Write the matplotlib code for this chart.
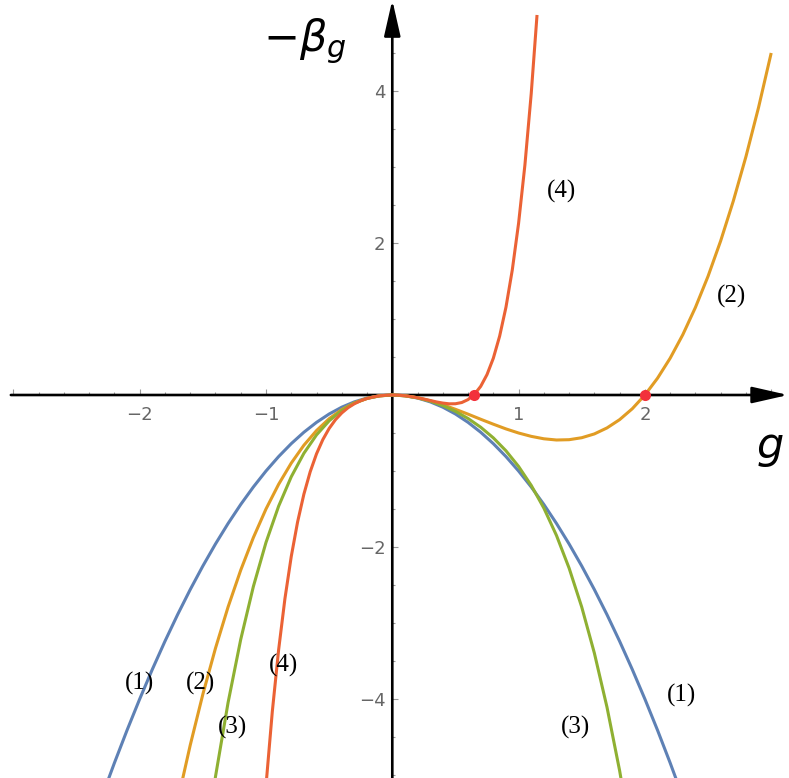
import numpy as np
import matplotlib
matplotlib.use("Agg")
import matplotlib.pyplot as plt
from matplotlib.ticker import FixedLocator, MultipleLocator

# sample grids in g
g1 = np.round(np.arange(-2.3, 2.31, 0.1), 2)
g2 = np.round(np.arange(-1.7, 3.001, 0.1), 2)
g3 = np.round(np.arange(-1.5, 1.91, 0.1), 2)
g4 = np.append(np.round(np.arange(-1.0, 1.101, 0.05), 2), 1.146)

# -beta_g values
y1 = [-5.29, -4.84, -4.41, -4, -3.61, -3.24, -2.89, -2.56, -2.25, -1.96, -1.69, -1.44,
      -1.21, -1, -0.81, -0.64, -0.49, -0.36, -0.25, -0.16, -0.09, -0.04, -0.01, 0,
      -0.01, -0.04, -0.09, -0.16, -0.25, -0.36, -0.49, -0.64, -0.81, -1, -1.21, -1.44,
      -1.69, -1.96, -2.25, -2.56, -2.89, -3.24, -3.61, -4, -4.41, -4.84, -5.29]
y2 = [-5.346, -4.608, -3.938, -3.332, -2.788, -2.304, -1.876, -1.5, -1.175, -0.896,
      -0.661, -0.468, -0.312, -0.192, -0.103, -0.044, -0.011, 0, -0.01, -0.036, -0.076,
      -0.128, -0.188, -0.252, -0.319, -0.384, -0.446, -0.5, -0.544, -0.576, -0.592,
      -0.588, -0.562, -0.512, -0.433, -0.324, -0.181, 0, 0.221, 0.484, 0.793, 1.152,
      1.562, 2.028, 2.552, 3.136, 3.784, 4.5]
y3 = [-6.165, -5.022, -4.045, -3.216, -2.52, -1.94, -1.463, -1.076, -0.767, -0.525,
      -0.34, -0.203, -0.107, -0.045, -0.011, 0, -0.01, -0.037, -0.08, -0.139, -0.215,
      -0.309, -0.424, -0.564, -0.734, -0.94, -1.189, -1.488, -1.848, -2.278, -2.79,
      -3.396, -4.108, -4.943, -5.915]
y4 = [-5.14, -4.166, -3.353, -2.679, -2.125, -1.672, -1.305, -1.01, -0.774, -0.587,
      -0.44, -0.325, -0.236, -0.167, -0.115, -0.075, -0.046, -0.025, -0.011, -0.003, 0,
      -0.002, -0.01, -0.021, -0.036, -0.053, -0.072, -0.091, -0.106, -0.116, -0.115,
      -0.099, -0.06, 0.008, 0.114, 0.269, 0.484, 0.775, 1.155, 1.644, 2.26, 3.026,
      3.965, 5.0]

# fixed points (zeros of -beta)
fp_g = [0.6455, 2.0]
fp_y = [0, 0]

colors = ["#5E81B5", "#E19C24", "#8FB032", "#EB6235"]

# curve labels: text, g, y
labels = [("(1)", -2.0, -3.8), ("(2)", -1.52, -3.8), ("(3)", -1.266, -4.37),
          ("(4)", -0.865, -3.56), ("(3)", 1.447, -4.37), ("(1)", 2.287, -3.95),
          ("(4)", 1.341, 2.68), ("(2)", 2.688, 1.3)]

fig = plt.figure(figsize=(7.89, 7.78), dpi=100)
ax = fig.add_axes([0, 0, 1, 1])
ax.set_xlim(-3.106, 3.141)
ax.set_ylim(-5.039, 5.197)

for g, y, col in zip([g1, g2, g3, g4], [y1, y2, y3, y4], colors):
    ax.plot(g, y, color=col, lw=2.2, solid_capstyle="butt", zorder=3)
ax.plot(fp_g, fp_y, "o", color="#F2313B", ms=8, mec="none", zorder=4)

# axes with arrowheads
for spine in ax.spines.values():
    spine.set_visible(False)
ax.spines["left"].set_position(("data", 0))
ax.spines["bottom"].set_position(("data", 0))
arrow = dict(arrowstyle="-|>,head_length=22,head_width=5", mutation_scale=1,
             color="black", lw=1.9, shrinkA=0, shrinkB=0)
ax.annotate("", xy=(3.134, 0), xytext=(-3.02, 0), arrowprops=arrow, zorder=2)
ax.annotate("", xy=(0, 5.197), xytext=(0, -5.1), arrowprops=arrow, zorder=2)

ax.xaxis.set_major_locator(FixedLocator([-3, -2, -1, 1, 2, 3]))
ax.xaxis.set_minor_locator(MultipleLocator(0.2))
ax.yaxis.set_major_locator(FixedLocator([-4, -2, 2, 4]))
ax.yaxis.set_minor_locator(MultipleLocator(0.5))
ax.set_xticklabels(["", "\u22122", "\u22121", "1", "2", ""])
ax.set_yticklabels(["\u22124", "\u22122", "2", "4"])
ax.tick_params(which="both", direction="in", color="#999999", width=0.8,
               labelcolor="#666666", labelsize=13)
ax.tick_params(which="major", length=4.5)
ax.tick_params(which="minor", length=2.5)
ax.tick_params(axis="x", pad=8)
ax.tick_params(axis="y", pad=5)

for txt, gx, gy in labels:
    ax.text(gx, gy, txt, fontsize=18, family="Liberation Serif",
            ha="center", va="center", zorder=5)

ax.text(-0.69, 4.66, r"$-\beta_g$", fontsize=31, ha="center", va="center")
ax.text(2.99, -0.7, r"$g$", fontsize=31, ha="center", va="center")

fig.savefig("out.png")
